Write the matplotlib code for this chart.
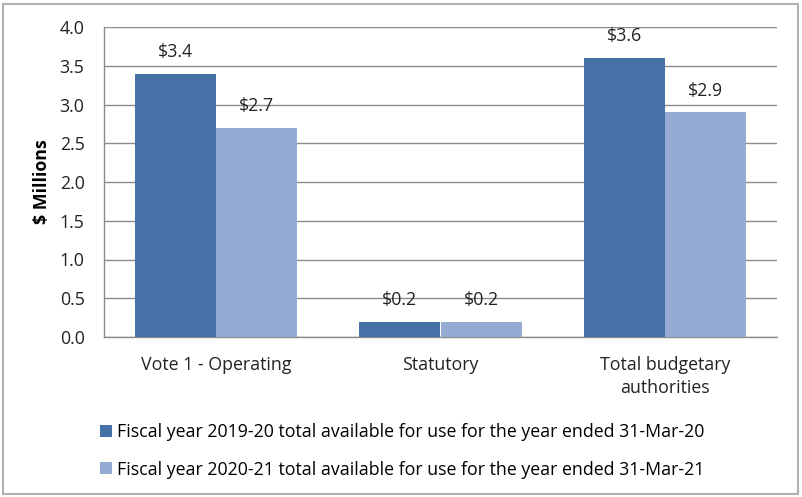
import matplotlib.pyplot as plt
import numpy as np

categories = ['Vote 1 - Operating', 'Statutory', 'Total budgetary\nauthorities']
fy_2019_20 = [3.4, 0.2, 3.6]
fy_2020_21 = [2.7, 0.2, 2.9]
series_labels = ['Fiscal year 2019-20 total available for use for the year ended 31-Mar-20',
                 'Fiscal year 2020-21 total available for use for the year ended 31-Mar-21']
yticks = [0.0, 0.5, 1.0, 1.5, 2.0, 2.5, 3.0, 3.5, 4.0]

dark = '#4571a6'
light = '#95abd3'
grey = '#8c8c8c'
fs = 12.8

plt.rcParams['font.family'] = ['Open Sans', 'DejaVu Sans']

fig = plt.figure(figsize=(8.02, 4.97), dpi=100)
ax = fig.add_axes([104/802, 1 - 337/497, 673/802, 310/497])

x = np.arange(len(categories))
width = 0.362
b1 = ax.bar(x - width/2, fy_2019_20, width, color=dark, label=series_labels[0], zorder=3)
b2 = ax.bar(x + width/2, fy_2020_21, width, color=light, label=series_labels[1], zorder=3)

for rects in (b1, b2):
    for r in rects:
        h = r.get_height()
        ax.annotate(f'${h:.1f}', xy=(r.get_x() + r.get_width()/2, h),
                    xytext=(0, 9), textcoords='offset points',
                    ha='center', va='bottom', fontsize=fs, color='#222222')

ax.set_xlim(-0.5, len(categories) - 0.5)
ax.set_ylim(0, 4.0)
ax.set_yticks(yticks)
ax.set_yticklabels([f'{v:.1f}' for v in yticks])
ax.set_xticks(x)
ax.set_xticklabels(categories, linespacing=1.35)
ax.tick_params(axis='both', length=0, labelsize=fs, colors='#222222')
ax.tick_params(axis='y', pad=14)
ax.tick_params(axis='x', pad=14)
ax.yaxis.grid(True, color=grey, linewidth=1, zorder=0)
for s in ('top', 'right'):
    ax.spines[s].set_visible(False)
for s in ('left', 'bottom'):
    ax.spines[s].set_color(grey)
    ax.spines[s].set_linewidth(1)
ax.set_ylabel('$ Millions', fontsize=fs, fontweight='bold', labelpad=6)

fig.legend(handles=[b1, b2], labels=series_labels, loc='upper left',
           bbox_to_anchor=(84/802, 1 - 407/497), frameon=False, fontsize=fs,
           handlelength=0.65, handleheight=0.65, handletextpad=0.3, labelspacing=1.1)

border = plt.Rectangle((3/802, 3/497), 795/802, 490/497, transform=fig.transFigure,
                       fill=False, edgecolor='#b0b0b0', linewidth=1.5)
fig.patches.append(border)

plt.savefig('out.png', dpi=100)
